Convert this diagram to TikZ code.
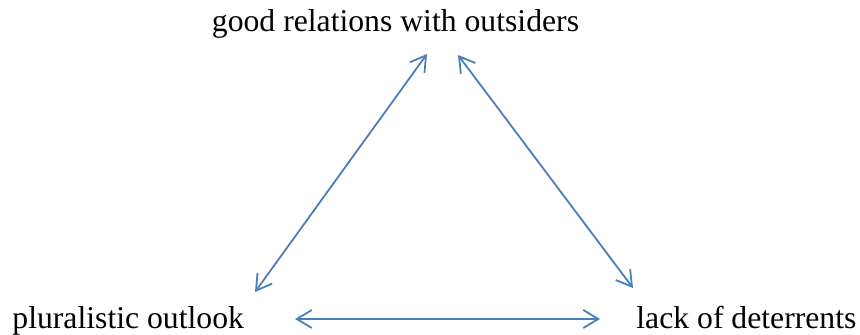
\documentclass[tikz,border=0pt]{standalone}
\usepackage{fontspec}
\setmainfont{Liberation Serif}
\usetikzlibrary{arrows.meta}
\definecolor{linkblue}{HTML}{4A7EBB}

\begin{document}
\begin{tikzpicture}[
x=0.5pt, y=-0.5pt,
lbl/.style={inner sep=0pt, font=\fontsize{15.85}{19}\selectfont},
link/.style={{Straight Barb[length=7.5pt,width=9pt]}-{Straight Barb[length=7.5pt,width=9pt]}, linkblue, line width=0.9pt}
]
\useasboundingbox (0,0) rectangle (860,335);
% labels
\node[lbl, anchor=base] (good) at (395.5,32) {good relations with outsiders};
\node[lbl, anchor=base west] (plural) at (12,329) {pluralistic outlook};
\node[lbl, anchor=base west] (deter) at (636,329) {lack of deterrents};
% arrow ends
\coordinate (goodL) at (427,54);
\coordinate (goodR) at (458,55);
\coordinate (pluralT) at (255,292);
\coordinate (pluralR) at (295,319);
\coordinate (deterT) at (633,288);
\coordinate (deterL) at (600,319);
\draw[link] (pluralT) -- (goodL);
\draw[link] (goodR) -- (deterT);
\draw[link] (pluralR) -- (deterL);
\end{tikzpicture}
\end{document}
